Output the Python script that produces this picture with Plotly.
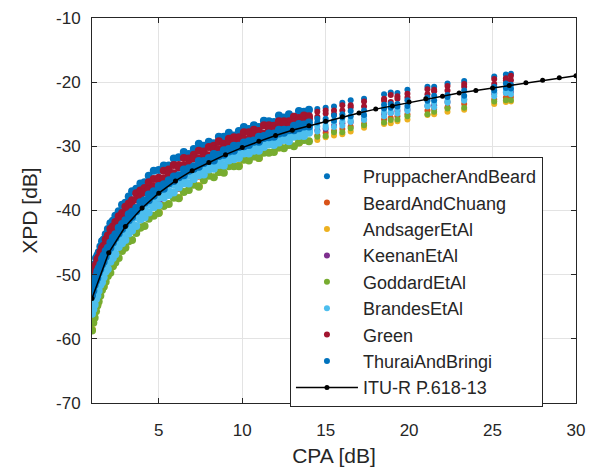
import plotly.graph_objects as go

# CPA sample positions (dB) shared by the main model rows
cpa_dense = [1.0, 1.08, 1.16, 1.24, 1.32, 1.4, 1.5, 1.6, 1.7, 1.82, 1.95,
             2.1, 2.25, 2.4, 2.6, 2.8, 3.0, 3.2, 3.4, 3.65, 3.9,
             4.15, 4.4, 4.7, 5.0, 5.3, 5.6, 5.9, 6.2, 6.5, 6.8, 7.1, 7.4, 7.7, 8.0, 8.3, 8.6, 8.9, 9.2, 9.5, 9.8,
             10.1, 10.4, 10.7, 11.0, 11.3, 11.6, 11.9, 12.2, 12.5, 12.8, 13.1, 13.4, 13.7, 14.0,
             14.5, 15.0, 15.5, 16.0, 16.5, 17.3, 18.5, 18.9, 19.3, 19.9, 21.1, 21.5, 22.3, 23.3, 25.1, 25.8, 26.1]

# CPA sample positions for the mostly hidden models
cpa_sparse = [1.0, 1.32, 1.7, 2.25, 3.0, 3.9, 5.0, 6.2, 7.4, 8.6, 9.8, 11.0, 12.2, 13.4,
              14.5, 15.0, 15.5, 16.0, 16.5, 17.3, 18.5, 18.9, 19.3, 19.9, 21.1, 21.5, 22.3, 23.3, 25.1, 25.8, 26.1]

xpd_pruppacher = [-49.8, -48.9, -48.4, -47.4, -47.0, -46.5, -45.6, -44.8, -44.5, -43.7, -42.9,
                  -42.0, -41.6, -40.8, -40.1, -39.1, -38.8, -37.8, -37.0, -36.6, -35.8,
                  -35.6, -34.6, -33.8, -33.7, -33.0, -33.0, -31.9, -31.7, -30.9, -31.2, -30.4, -29.6, -29.9, -29.3, -29.5, -28.5, -28.5, -27.9, -28.3, -27.6,
                  -27.0, -27.3, -26.7, -27.0, -26.0, -26.1, -26.2, -25.2, -25.5, -25.0, -25.4, -24.5, -24.6, -24.3,
                  -24.2, -24.0, -23.8, -23.2, -22.8, -22.6, -21.9, -21.6, -21.7, -21.2, -20.7, -20.7, -20.2, -19.8, -19.1, -18.8, -18.7]

xpd_beard = [-55.5, -52.6, -50.0, -47.1, -44.1, -41.3, -38.7, -36.5, -34.6, -33.0, -31.7, -30.6, -29.7, -28.8,
             -28.3, -27.9, -27.6, -27.3, -26.9, -26.5, -25.8, -25.6, -25.3, -25.0, -24.4, -24.2, -23.9, -23.4, -22.7, -22.4, -22.3]

xpd_andsager = [-58.6, -54.7, -51.8, -48.6, -45.7, -42.6, -40.3, -38.0, -36.2, -34.0, -33.0, -31.8, -30.2, -29.4,
                -29.0, -28.6, -28.3, -28.1, -27.7, -27.1, -26.5, -26.4, -26.1, -25.8, -25.1, -25.0, -24.6, -24.3, -23.4, -23.1, -23.0]

xpd_keenan = [-55.0, -52.1, -49.4, -46.5, -43.5, -40.8, -38.3, -36.0, -34.2, -32.6, -31.3, -30.2, -29.2, -28.2,
              -27.5, -27.3, -26.8, -26.4, -26.2, -25.8, -25.0, -24.8, -24.5, -24.3, -23.7, -23.6, -23.1, -22.7, -21.8, -21.6, -21.5]

xpd_goddard = [-58.7, -57.5, -56.7, -55.7, -54.8, -54.2, -53.3, -52.4, -51.9, -51.1, -50.2,
               -49.7, -48.7, -48.1, -47.4, -46.3, -45.8, -44.8, -44.6, -43.5, -42.7,
               -42.4, -41.3, -40.8, -40.4, -39.3, -39.0, -38.0, -38.1, -37.1, -36.8, -36.0, -36.3, -35.3, -34.6, -34.8, -34.0, -34.1, -33.1, -33.1, -33.1,
               -32.1, -32.2, -31.6, -31.8, -31.0, -31.0, -30.9, -30.2, -30.3, -29.8, -30.0, -29.4, -29.0, -29.2,
               -28.5, -28.4, -27.8, -27.8, -27.2, -26.7, -26.3, -25.9, -25.8, -25.3, -25.0, -24.6, -24.1, -24.0, -23.0, -22.8, -22.8]

xpd_brandes_a = [-54.7, -53.8, -53.3, -52.3, -51.8, -51.3, -50.3, -49.8, -49.3, -48.3, -47.7,
                 -46.8, -46.3, -45.5, -44.5, -44.0, -43.2, -42.5, -42.1, -41.1, -40.5,
                 -40.0, -39.1, -38.6, -38.0, -37.2, -37.0, -36.0, -35.7, -35.3, -34.6, -34.5, -33.7, -33.4, -32.8, -32.8, -32.5, -31.8, -31.6, -31.1, -31.1,
                 -30.5, -30.3, -30.1, -29.6, -29.6, -29.2, -28.9, -28.9, -28.4, -28.3, -28.1, -27.6, -27.6, -27.5,
                 -26.9, -26.8, -26.2, -26.1, -25.9, -25.3, -24.7, -24.6, -24.2, -24.1, -23.6, -23.2, -22.9, -22.6, -21.6, -21.4, -21.2]

xpd_brandes_b = [-56.1, -55.4, -54.7, -53.8, -53.3, -52.5, -51.6, -51.2, -50.4, -49.5, -49.1,
                 -48.0, -47.4, -46.8, -45.7, -45.1, -44.6, -43.6, -43.1, -42.4, -41.4,
                 -41.1, -40.3, -39.5, -39.2, -38.0, -37.6, -37.2, -36.4, -35.8, -35.8, -35.1, -34.5, -34.4, -33.6, -33.5, -32.9, -33.0, -32.2, -32.0, -31.8,
                 -31.1, -31.1, -30.7, -30.7, -30.1, -29.7, -29.8, -29.4, -29.0, -29.2, -28.5, -28.4, -28.4, -27.9,
                 -27.7, -27.1, -27.0, -26.8, -26.2, -25.9, -25.3, -24.8, -24.9, -24.5, -23.8, -23.9, -23.2, -22.9, -22.2, -21.7, -21.9]

xpd_green_a = [-50.6, -49.9, -49.0, -48.4, -47.6, -47.3, -46.5, -45.8, -45.5, -44.5, -43.9,
               -42.9, -42.5, -41.8, -40.9, -40.4, -39.4, -38.9, -38.4, -37.3, -36.9,
               -36.5, -35.6, -35.1, -34.9, -33.8, -33.6, -32.9, -32.9, -31.8, -31.9, -31.3, -30.7, -30.8, -30.1, -29.9, -29.2, -29.6, -28.8, -28.6, -28.6,
               -27.8, -27.8, -27.4, -27.6, -26.7, -26.7, -26.8, -26.1, -26.1, -26.1, -25.4, -25.6, -25.2, -25.3,
               -24.6, -24.4, -24.4, -23.6, -23.6, -23.0, -22.6, -22.0, -22.2, -21.8, -21.1, -21.2, -20.6, -20.3, -19.5, -19.4, -19.0]

xpd_green_b = [-51.4, -50.7, -50.1, -49.2, -48.7, -47.9, -47.5, -46.8, -46.1, -45.6, -44.6,
               -44.0, -43.4, -42.6, -41.7, -41.3, -40.5, -39.7, -39.3, -38.3, -38.0,
               -37.1, -36.7, -36.3, -35.3, -35.0, -34.3, -34.2, -33.3, -33.0, -32.8, -31.9, -31.9, -31.3, -31.4, -30.5, -30.4, -30.3, -29.7, -29.2, -29.3,
               -28.9, -28.9, -28.1, -28.0, -28.0, -27.3, -27.4, -27.1, -26.6, -26.9, -26.3, -26.0, -26.2, -25.7,
               -25.4, -24.9, -25.0, -24.4, -23.9, -23.8, -22.9, -23.1, -22.6, -22.4, -21.9, -21.4, -21.3, -20.7, -20.3, -19.7, -19.7]

xpd_thurai_a = [-52.3, -51.4, -50.9, -50.2, -49.5, -49.0, -48.4, -47.5, -47.0, -46.3, -45.8,
                -45.0, -44.2, -43.7, -42.7, -42.1, -41.5, -40.6, -40.2, -39.6, -38.7,
                -38.4, -37.5, -37.0, -36.2, -35.9, -35.3, -34.7, -34.5, -33.6, -33.4, -33.1, -32.3, -32.3, -31.8, -31.2, -31.3, -30.6, -30.4, -29.9, -29.9,
                -29.4, -29.2, -29.1, -28.5, -28.4, -28.0, -28.0, -27.4, -27.4, -27.4, -26.8, -26.5, -26.6, -26.3,
                -25.7, -25.7, -25.2, -25.0, -24.5, -24.4, -23.5, -23.4, -23.4, -22.8, -22.4, -22.1, -22.0, -21.3, -20.7, -20.2, -20.4]

xpd_thurai_b = [-53.2, -52.5, -51.6, -51.0, -50.5, -49.7, -49.1, -48.4, -48.0, -47.2, -46.4,
                -45.8, -45.0, -44.3, -43.6, -42.9, -42.1, -41.5, -41.0, -40.1, -39.5,
                -38.8, -38.4, -37.7, -36.9, -36.6, -35.8, -35.4, -34.8, -34.5, -33.8, -33.5, -33.2, -32.6, -32.3, -32.2, -31.5, -31.3, -30.8, -30.7, -30.1,
                -30.0, -29.8, -29.3, -29.3, -28.7, -28.6, -28.5, -28.0, -27.9, -27.5, -27.5, -27.2, -26.9, -26.9,
                -26.3, -26.1, -26.0, -25.5, -25.3, -25.1, -24.1, -24.0, -23.8, -23.7, -22.9, -22.8, -22.3, -22.1, -21.3, -20.9, -21.0]

# ITU-R P.618-13 prediction
cpa_itu = list(range(1, 31))
xpd_itu = [-53.7, -46.6, -42.5, -39.6, -37.3, -35.4, -33.8, -32.5, -31.3, -30.2,
           -29.2, -28.3, -27.5, -26.8, -26.1, -25.4, -24.8, -24.2, -23.7, -23.1,
           -22.6, -22.2, -21.7, -21.3, -20.9, -20.5, -20.1, -19.7, -19.3, -19.0]

x_ticks = [5, 10, 15, 20, 25, 30]
y_ticks = [-70, -60, -50, -40, -30, -20, -10]
y_tick_labels = ["-70", "-60", "-50", "-40", "-30", "-20", "-10"]

series = [
    ("PruppacherAndBeard", "#0072BD", cpa_dense, xpd_pruppacher),
    ("BeardAndChuang", "#D95319", cpa_sparse, xpd_beard),
    ("AndsagerEtAl", "#EDB120", cpa_sparse, xpd_andsager),
    ("KeenanEtAl", "#7E2F8E", cpa_sparse, xpd_keenan),
    ("GoddardEtAl", "#77AC30", cpa_dense, xpd_goddard),
    ("BrandesEtAl", "#4DBEEE", cpa_dense + cpa_dense, xpd_brandes_a + xpd_brandes_b),
    ("Green", "#A2142F", cpa_dense + cpa_dense, xpd_green_a + xpd_green_b),
    ("ThuraiAndBringi", "#0072BD", cpa_dense + cpa_dense, xpd_thurai_a + xpd_thurai_b),
]

SPLIT = 14.2  # dense cloud below this CPA, isolated columns above

fig = go.Figure()
# dense part of every series (slightly larger dots so the cloud reads as solid)
for name, color, xs, ys in series:
    px_ = [x for x in xs if x < SPLIT]
    py_ = [y for x, y in zip(xs, ys) if x < SPLIT]
    fig.add_trace(go.Scatter(x=px_, y=py_, mode="markers", name=name, legendgroup=name,
                             showlegend=False, opacity=1,
                             marker=dict(color=color, size=8, opacity=1, line=dict(width=0))))
# sparse columns (these traces carry the legend entries)
for name, color, xs, ys in series:
    px_ = [x for x in xs if x >= SPLIT]
    py_ = [y for x, y in zip(xs, ys) if x >= SPLIT]
    fig.add_trace(go.Scatter(x=px_, y=py_, mode="markers", name=name, legendgroup=name,
                             showlegend=True, opacity=1,
                             marker=dict(color=color, size=6, opacity=1, line=dict(width=0))))

fig.add_trace(go.Scatter(x=cpa_itu, y=xpd_itu, mode="lines+markers", name="ITU-R P.618-13",
                         line=dict(color="black", width=1.5),
                         marker=dict(color="black", size=5)))

axis_common = dict(
    ticks="inside", ticklen=5, tickcolor="#262626", tickwidth=1,
    showline=True, linecolor="#262626", linewidth=1, mirror="ticks",
    showgrid=True, gridcolor="#e3e3e3", gridwidth=1, zeroline=False,
    tickfont=dict(size=17, color="#262626"), automargin=False,
)

fig.update_xaxes(range=[1, 30], tickvals=x_ticks, ticklabelstandoff=12,
                 title=dict(text="CPA [dB]", font=dict(size=21, color="#262626"), standoff=8),
                 **axis_common)
fig.update_yaxes(range=[-70, -10], tickvals=y_ticks, ticktext=y_tick_labels, ticklabelstandoff=7,
                 title=dict(text="XPD [dB]", font=dict(size=21, color="#262626"), standoff=12),
                 **axis_common)

fig.update_layout(
    width=597, height=470,
    margin=dict(l=92, r=21, t=18, b=67, autoexpand=False),
    paper_bgcolor="white", plot_bgcolor="white",
    font=dict(family="Liberation Sans, Arial, sans-serif", color="#262626"),
    showlegend=True,
    legend=dict(x=0.409, y=0.639, xanchor="left", yanchor="top",
                bgcolor="white", bordercolor="#262626", borderwidth=1,
                font=dict(size=18, color="#262626"), tracegroupgap=0,
                itemwidth=62),
)

fig.write_html("out.html", config={"displayModeBar": False},
               post_script="document.body.style.margin='0px';document.body.style.overflow='hidden';")
